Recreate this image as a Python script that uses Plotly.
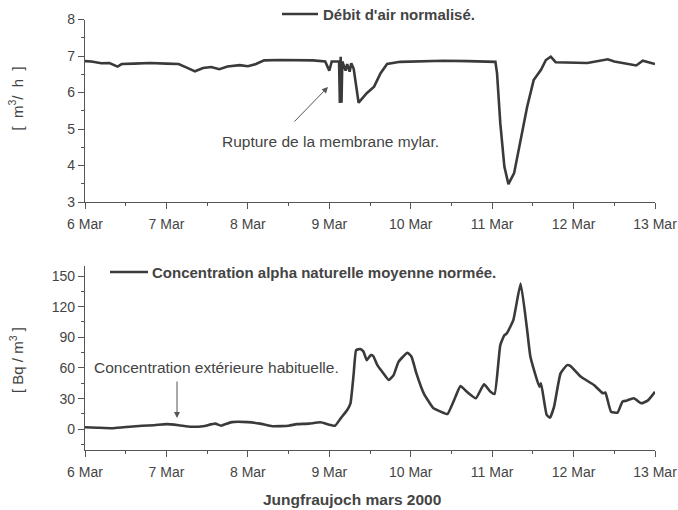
import pandas as pd
import plotly.graph_objects as go

# ---- data (days after 6 Mar 2000 00:00) ----
start_date = "2000-03-06"
flow_days = [0.00, 0.08, 0.20, 0.30, 0.40, 0.45, 0.60, 0.80, 1.00, 1.15, 1.25, 1.35,
             1.45, 1.55, 1.65, 1.75, 1.90, 2.00, 2.10, 2.20, 2.40, 2.60, 2.80, 2.95,
             3.00, 3.03, 3.12, 3.13, 3.14, 3.15, 3.16, 3.20, 3.22, 3.25, 3.27, 3.30,
             3.36, 3.46, 3.55, 3.63, 3.71, 3.87, 4.10, 4.40, 4.70, 5.04, 5.06, 5.10,
             5.15, 5.20, 5.27, 5.35, 5.43, 5.51, 5.60, 5.66, 5.72, 5.78, 5.97, 6.17,
             6.42, 6.50, 6.77, 6.85, 7.00]
flow_vals = [6.86, 6.85, 6.80, 6.81, 6.71, 6.78, 6.79, 6.81, 6.79, 6.78, 6.68, 6.58,
             6.67, 6.70, 6.64, 6.71, 6.75, 6.72, 6.78, 6.88, 6.89, 6.89, 6.88, 6.85,
             6.60, 6.85, 6.85, 5.71, 6.98, 5.72, 6.85, 6.60, 6.78, 6.57, 6.80, 6.65,
             5.72, 5.98, 6.16, 6.53, 6.78, 6.84, 6.85, 6.87, 6.86, 6.84, 6.53, 5.16,
             3.97, 3.49, 3.79, 4.70, 5.61, 6.34, 6.62, 6.89, 6.98, 6.83, 6.82, 6.81,
             6.91, 6.85, 6.74, 6.87, 6.78]

conc_days = [0.00, 0.15, 0.35, 0.55, 0.70, 0.85, 1.00, 1.15, 1.30, 1.45, 1.60, 1.67,
             1.80, 2.00, 2.15, 2.30, 2.50, 2.60, 2.75, 2.89, 3.07, 3.14, 3.22, 3.26,
             3.30, 3.33, 3.38, 3.42, 3.46, 3.51, 3.54, 3.59, 3.65, 3.73, 3.79, 3.85,
             3.96, 4.01, 4.07, 4.16, 4.28, 4.37, 4.45, 4.55, 4.61, 4.69, 4.80, 4.90,
             4.98, 5.03, 5.10, 5.15, 5.18, 5.26, 5.35, 5.43, 5.47, 5.58, 5.60, 5.67,
             5.71, 5.76, 5.84, 5.92, 5.96, 6.09, 6.25, 6.36, 6.39, 6.46, 6.54, 6.60,
             6.65, 6.74, 6.83, 6.91, 7.00]
conc_vals = [2.0, 1.5, 1.0, 2.5, 3.5, 4.0, 5.0, 4.0, 2.5, 3.0, 5.5, 3.5,
             7.0, 7.0, 5.5, 3.0, 3.5, 5.0, 5.5, 6.8, 3.5, 10.7, 18.9, 25.4,
             54.7, 77.5, 78.5, 76.0, 67.7, 72.6, 71.6, 62.8, 56.3, 48.2, 53.0, 66.0,
             74.9, 71.0, 54.7, 35.2, 20.5, 17.2, 14.9, 31.9, 42.3, 36.7, 30.3, 44.0,
             36.7, 34.5, 82.4, 92.0, 93.8, 106.8, 142.6, 97.0, 71.0, 41.6, 45.0, 14.0,
             11.3, 22.0, 54.7, 62.8, 62.0, 51.4, 43.3, 35.2, 36.0, 17.2, 16.3, 27.0,
             28.0, 30.3, 25.4, 28.0, 36.7]

flow_name = "Débit d'air normalisé."
conc_name = "Concentration alpha naturelle moyenne normée."
xaxis_title = "Jungfraujoch mars 2000"
flow_unit = "[  m<sup>3</sup>/  h  ]"
conc_unit = "[ Bq / m<sup>3</sup> ]"
note_flow = "Rupture de la membrane mylar."
note_conc = "Concentration extérieure habituelle."

base = pd.Timestamp(start_date)
to_dt = lambda ds: [base + pd.Timedelta(days=d) for d in ds]

W, H = 678, 510
px = lambda x: x / W
py = lambda y: 1 - y / H

LINE = "#3a3a3a"
TXT = "#444444"
AX = "#555555"
FONT = "Liberation Sans, Arial, sans-serif"

fig = go.Figure()
fig.add_trace(go.Scatter(x=to_dt(flow_days), y=flow_vals, mode="lines",
                         line=dict(color=LINE, width=2.6), xaxis="x", yaxis="y",
                         showlegend=False))
fig.add_trace(go.Scatter(x=to_dt(conc_days), y=conc_vals, mode="lines",
                         line=dict(color=LINE, width=2.6, shape="spline", smoothing=0.4),
                         xaxis="x2", yaxis="y2", showlegend=False))

xcommon = dict(type="date", range=[base, base + pd.Timedelta(days=7)],
               tickformat="%-d %b", dtick=86400000, tick0=start_date,
               showline=True, linecolor=AX, linewidth=1.3,
               ticks="outside", ticklen=6, tickcolor=AX, tickwidth=1.3,
               ticklabelstandoff=3,
               minor=dict(dtick=43200000, ticks="outside", ticklen=3, tickcolor=AX),
               showgrid=False, zeroline=False,
               tickfont=dict(family=FONT, size=14, color=TXT))
ycommon = dict(showline=True, linecolor=AX, linewidth=1.3,
               ticks="outside", ticklen=6, tickcolor=AX, tickwidth=1.3,
               showgrid=False, zeroline=False,
               tickfont=dict(family=FONT, size=14, color=TXT))

fig.update_layout(
    width=W, height=H, margin=dict(l=0, r=0, t=0, b=0, autoexpand=False),
    plot_bgcolor="white", paper_bgcolor="white",
    xaxis=dict(domain=[px(85), px(655)], anchor="y", **xcommon),
    yaxis=dict(domain=[py(202), py(19.5)], anchor="x", range=[3, 8], dtick=1,
               minor=dict(dtick=0.5, ticks="outside", ticklen=3, tickcolor=AX),
               **ycommon),
    xaxis2=dict(domain=[px(85), px(655)], anchor="y2", **xcommon),
    yaxis2=dict(domain=[py(449.7), py(265.8)], anchor="x2", range=[-20, 160],
                tickvals=[0, 30, 60, 90, 120, 150],
                minor=dict(tickvals=[-15, 15, 45, 75, 105, 135], ticks="outside",
                           ticklen=3, tickcolor=AX),
                **ycommon),
)

# legend-like labels
fig.add_shape(type="line", xref="paper", yref="paper", x0=px(282), x1=px(318),
              y0=py(14), y1=py(14), line=dict(color=LINE, width=2.6))
fig.add_shape(type="line", xref="paper", yref="paper", x0=px(110), x1=px(148),
              y0=py(272), y1=py(272), line=dict(color=LINE, width=2.6))

anns = [
    dict(x=px(321), y=py(14), text="<b>%s</b>" % flow_name, xanchor="left", size=15),
    dict(x=px(150), y=py(272), text="<b>%s</b>" % conc_name, xanchor="left", size=15),
    dict(x=px(351.5), y=py(499), text="<b>%s</b>" % xaxis_title, xanchor="center", size=15.5),
    dict(x=px(220), y=py(141), text=note_flow, xanchor="left", size=15.5),
    dict(x=px(92), y=py(367), text=note_conc, xanchor="left", size=15.5),
]
for a in anns:
    fig.add_annotation(x=a["x"], y=a["y"], xref="paper", yref="paper", text=a["text"],
                       xanchor=a["xanchor"], yanchor="middle", showarrow=False,
                       font=dict(family=FONT, size=a["size"], color=TXT))

for txt, yy in [(flow_unit, 98.5), (conc_unit, 360)]:
    fig.add_annotation(x=px(16), y=py(yy), xref="paper", yref="paper", text=txt,
                       textangle=-90, showarrow=False, xanchor="center", yanchor="middle",
                       font=dict(family=FONT, size=15, color=TXT))

# arrows (head position in paper coords, tail offset in pixels)
fig.add_annotation(x=px(328), y=py(87), ax=-35, ay=36, xref="paper", yref="paper",
                   text="", showarrow=True, arrowhead=2,
                   arrowsize=1.2, arrowwidth=1, arrowcolor=AX)
fig.add_annotation(x=px(177), y=py(418), ax=0, ay=-38, xref="paper", yref="paper",
                   text="", showarrow=True, arrowhead=2,
                   arrowsize=1.2, arrowwidth=1, arrowcolor=AX)

fig.write_html("out.html", config={"displayModeBar": False},
               post_script="document.body.style.margin='0';document.body.style.overflow='hidden';")
